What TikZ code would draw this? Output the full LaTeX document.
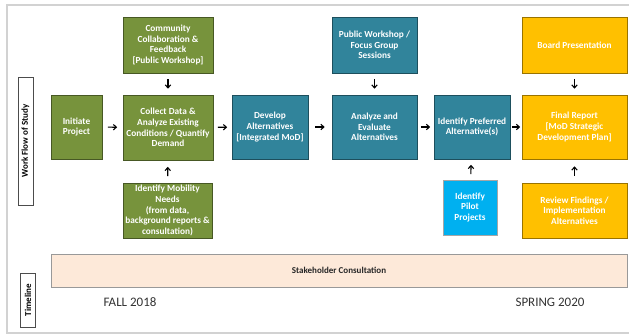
\documentclass[tikz,border=0pt]{standalone}
\usepackage{fontspec}
\setmainfont{Carlito}
\usetikzlibrary{arrows.meta}
\definecolor{stepgreen}{HTML}{77933C}
\definecolor{stepteal}{HTML}{31849B}
\definecolor{stepgold}{HTML}{FFC000}
\definecolor{stepsky}{HTML}{00B0F0}
\definecolor{bandpeach}{HTML}{FDE9D9}
\begin{document}
\begin{tikzpicture}[x=1pt,y=-1pt,
        box/.style={draw=#1!60!black, fill=#1, line width=0.7pt, text=white,
            font=\fontsize{9.3}{10.7}\selectfont\bfseries, align=center, inner sep=1pt},
        sidelabel/.style={draw=black!70, fill=white, line width=0.6pt, rotate=90,
            font=\fontsize{9}{10}\selectfont\bfseries, inner sep=0pt},
        flow/.style={-{Straight Barb[length=3pt,width=5.5pt]}, line width=1.1pt,
            shorten <=#1, shorten >=#1}]
    \useasboundingbox (0,0) rectangle (629,335);
    % frame
    \draw[gray!35, line width=1.5pt] (629,5) -- (7,5) -- (7,333) -- (629,333);
    % side labels
    \node[sidelabel, minimum width=128pt, minimum height=15pt] (workflow) at (25.5,141) {Work Flow of Study};
    \node[sidelabel, minimum width=54pt, minimum height=15pt] (timeline) at (28,300) {Timeline};
    % green stage
    \node[box=stepgreen, minimum width=51pt, minimum height=64pt] (initiate) at (76.5,127) {Initiate\\Project};
    \node[box=stepgreen, minimum width=90pt, minimum height=56pt] (community) at (168,45)
        {Community\\Collaboration \&\\Feedback\\{}[Public Workshop]};
    \node[box=stepgreen, minimum width=90pt, minimum height=65pt] (collect) at (168,127.5)
        {Collect Data \&\\Analyze Existing\\Conditions / Quantify\\Demand};
    \node[box=stepgreen, minimum width=89pt, minimum height=55pt] (mobility) at (167.5,210.5)
        {Identify Mobility\\Needs\\(from data,\\background reports \&\\consultation)};
    % teal stage
    \node[box=stepteal, minimum width=76pt, minimum height=64pt] (develop) at (270,127)
        {Develop\\Alternatives\\{}[Integrated MoD]};
    \node[box=stepteal, minimum width=85pt, minimum height=56pt] (workshop) at (374.5,45)
        {Public Workshop /\\Focus Group\\Sessions};
    \node[box=stepteal, minimum width=85pt, minimum height=64pt] (analyze) at (374.5,127)
        {Analyze and\\Evaluate\\Alternatives};
    \node[box=stepteal, minimum width=76pt, minimum height=64pt] (preferred) at (472,127)
        {Identify Preferred\\Alternative(s)};
    \node[box=stepsky, draw=gray!70, minimum width=54pt, minimum height=55pt] (pilot) at (470,207.5)
        {Identify\\Pilot\\Projects};
    % gold stage
    \node[box=stepgold, minimum width=105pt, minimum height=56pt] (board) at (574.5,45) {Board Presentation};
    \node[box=stepgold, minimum width=105pt, minimum height=64pt] (final) at (574.5,127)
        {Final Report\\{}[MoD Strategic\\Development Plan]};
    \node[box=stepgold, minimum width=105pt, minimum height=55pt] (review) at (574.5,210.5)
        {Review Findings /\\Implementation\\Alternatives};
    % timeline
    \node[draw=gray!80, fill=bandpeach, line width=0.7pt, minimum width=576pt, minimum height=33pt,
        font=\fontsize{9}{10}\selectfont\bfseries, text=black!85] (stake) at (339,270.5) {Stakeholder Consultation};
    \node[font=\fontsize{13}{14}\selectfont, text=black!80] (fall) at (130,302) {FALL 2018};
    \node[font=\fontsize{13}{14}\selectfont, text=black!80] (spring) at (550,302) {SPRING 2020};
    % arrows
    \draw[flow=5.5pt] (initiate) -- (collect);
    \draw[flow=4.5pt] (collect) -- (develop);
    \draw[flow=7pt] (develop) -- (analyze);
    \draw[flow=3.5pt] (analyze) -- (preferred);
    \draw[flow=1.5pt] (preferred) -- (final);
    \draw[flow=6pt] (community) -- (collect);
    \draw[flow=6pt] (workshop) -- (analyze);
    \draw[flow=6pt] (board) -- (final);
    \draw[flow=6.5pt] (mobility) -- (collect);
    \draw[flow=5.5pt] (pilot) -- (preferred);
    \draw[flow=7pt] (review) -- (final);
\end{tikzpicture}
\end{document}
